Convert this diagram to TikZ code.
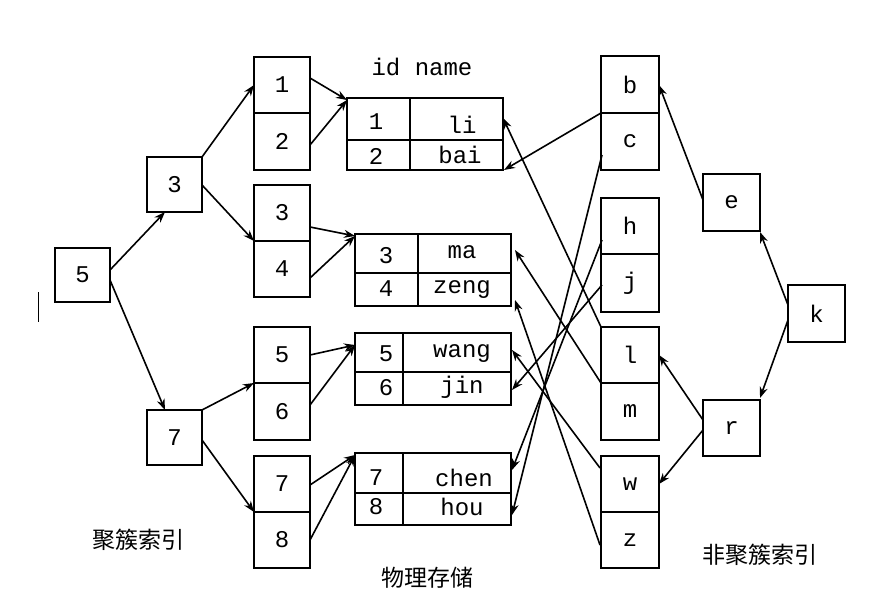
\documentclass[tikz,border=0pt]{standalone}
\usepackage{fontspec}
\setmonofont{Liberation Mono}
\newfontfamily\cjk{Noto Sans CJK SC}
\usetikzlibrary{arrows.meta}
\begin{document}
\begin{tikzpicture}[x=1pt,y=-1pt,
  bx/.style={draw,line width=1.4pt,inner sep=0pt},
  lb/.style={font=\ttfamily\fontsize{24}{24}\selectfont},
  ar/.style={-{Stealth[length=11pt,width=8pt]},line width=1.6pt},
  cn/.style={font=\cjk\fontsize{23}{23}\selectfont}]
\useasboundingbox (0,0) rectangle (882,596);
\def\B#1#2#3#4#5#6{\draw[bx] (#2,#3) rectangle (#4,#5); \node[lb] (#1) at ({(#2+#4)/2},{(#3+#5)/2}) {#6};}
\B{n5}{55}{248}{110}{302}{5}
\B{n3}{147}{157}{202}{212}{3}
\B{n7}{147}{410}{202}{465}{7}
\B{a1}{254}{57}{310}{113}{1}
\B{a2}{254}{113}{310}{170}{2}
\B{a3}{254}{185}{310}{241}{3}
\B{a4}{254}{241}{310}{297}{4}
\B{a5}{254}{327}{310}{383}{5}
\B{a6}{254}{383}{310}{440}{6}
\B{a7}{254}{456}{310}{512}{7}
\B{a8}{254}{512}{310}{568}{8}
\B{rb}{601}{56}{659}{113}{b}
\B{rc}{601}{113}{659}{170}{c}
\B{rh}{601}{198}{659}{254}{h}
\B{rj}{601}{254}{659}{312}{j}
\B{rl}{601}{327}{659}{383}{l}
\B{rm}{601}{383}{659}{440}{m}
\B{rw}{601}{456}{659}{512}{w}
\B{rz}{601}{512}{659}{568}{z}
\B{ne}{703}{174}{760}{231}{e}
\B{nk}{788}{285}{845}{342}{k}
\B{nr}{703}{400}{760}{456}{r}
\draw[bx] (347,98) rectangle (503,170); \draw[bx] (347,140)--(503,140); \draw[bx] (410,98)--(410,170);
\node[lb] at (376,122) {1}; \node[lb] at (376,156) {2};
\node[lb] (li) at (462,125) {li}; \node[lb] (bai) at (460,155) {bai};
\draw[bx] (355,234) rectangle (511,306); \draw[bx] (355,273)--(511,273); \draw[bx] (418,234)--(418,306);
\node[lb] at (386,256) {3}; \node[lb] at (386,289) {4};
\node[lb] at (462,252) {ma}; \node[lb] at (462,290) {zeng};
\draw[bx] (355,333) rectangle (511,405); \draw[bx] (355,372)--(511,372); \draw[bx] (403,333)--(403,405);
\node[lb] at (386,354) {5}; \node[lb] at (386,388) {6};
\node[lb] at (462,354) {wang}; \node[lb] at (462,387) {jin};
\draw[bx] (355,453) rectangle (511,525); \draw[bx] (355,493)--(511,493); \draw[bx] (403,453)--(403,525);
\node[lb] at (376,478) {7}; \node[lb] at (376,507) {8};
\node[lb] at (464,478) {chen}; \node[lb] at (462,507) {hou};
\coordinate (t1) at (347,100); \coordinate (t2) at (355,236); \coordinate (t3) at (355,345); \coordinate (t4) at (355,455);
\draw[ar] (110,270)--(165,212);
\draw[ar] (110,280)--(165,410);
\draw[ar] (202,157)--(254,85);
\draw[ar] (202,185)--(254,241);
\draw[ar] (202,410)--(254,383);
\draw[ar] (202,440)--(254,512);
\draw[ar] (310,78)--(t1); \draw[ar] (310,145)--(t1);
\draw[ar] (310,227)--(t2); \draw[ar] (310,278)--(t2);
\draw[ar] (310,355)--(t3); \draw[ar] (310,405)--(t3);
\draw[ar] (310,485)--(t4); \draw[ar] (310,540)--(t4);
\draw[ar] (788,305)--(760,232);
\draw[ar] (788,320)--(760,398);
\draw[ar] (703,200)--(659,85);
\draw[ar] (703,420)--(659,355);
\draw[ar] (703,430)--(659,484);
\draw[ar] (601,113)--(504,170);
\draw[ar] (601,327)--(503,118);
\draw[ar] (601,383)--(515,250);
\draw[ar] (602,155)--(512,515);
\draw[ar] (602,240)--(512,470);
\draw[ar] (602,285)--(512,390);
\draw[ar] (600,468)--(512,350);
\draw[ar] (600,545)--(515,300);
\node[lb] at (422,67) {id name};
\node[cn] at (138,540) {聚簇索引};
\node[cn] at (427,578) {物理存储};
\node[cn] at (760,555) {非聚簇索引};
\draw[line width=0.8pt] (38,292)--(38,322);
\end{tikzpicture}
\end{document}
